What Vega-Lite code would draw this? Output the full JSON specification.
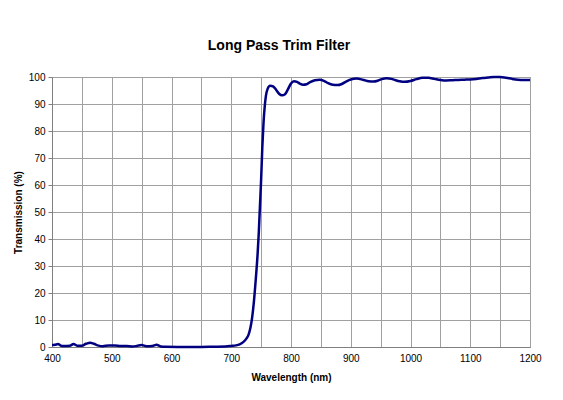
{
  "$schema": "https://vega.github.io/schema/vega-lite/v6.json",
  "width": 478,
  "height": 270,
  "autosize": {"type": "none"},
  "padding": {"left": 52, "top": 77, "right": 33, "bottom": 53},
  "background": "white",
  "title": {
    "text": "Long Pass Trim Filter",
    "font": "Liberation Sans",
    "fontSize": 14,
    "fontWeight": "bold",
    "color": "#000000",
    "anchor": "middle",
    "dx": -12,
    "offset": 19
  },
  "config": {
    "view": {"stroke": "#808080", "strokeWidth": 1},
    "axis": {
      "labelFont": "Liberation Sans",
      "titleFont": "Liberation Sans",
      "labelFontSize": 10,
      "titleFontSize": 10,
      "titleFontWeight": "bold",
      "labelColor": "#000000",
      "titleColor": "#000000",
      "domainColor": "#808080",
      "tickColor": "#808080",
      "gridColor": "#a0a0a0",
      "gridOpacity": 1,
      "labelFlush": false,
      "labelOverlap": false
    }
  },
  "data": {
    "values": [
      {"wl": 400, "t": 0.7}, {"wl": 405, "t": 0.8}, {"wl": 410, "t": 1.1}, {"wl": 415, "t": 0.5},
      {"wl": 420, "t": 0.4}, {"wl": 430, "t": 0.5}, {"wl": 436, "t": 1.1}, {"wl": 442, "t": 0.5},
      {"wl": 450, "t": 0.5}, {"wl": 457, "t": 1.2}, {"wl": 464, "t": 1.6}, {"wl": 470, "t": 1.2},
      {"wl": 478, "t": 0.5}, {"wl": 485, "t": 0.3}, {"wl": 495, "t": 0.6}, {"wl": 505, "t": 0.6},
      {"wl": 515, "t": 0.4}, {"wl": 525, "t": 0.4}, {"wl": 535, "t": 0.2}, {"wl": 542, "t": 0.4},
      {"wl": 550, "t": 0.7}, {"wl": 558, "t": 0.3}, {"wl": 568, "t": 0.4}, {"wl": 575, "t": 0.8},
      {"wl": 582, "t": 0.2}, {"wl": 590, "t": 0.05}, {"wl": 610, "t": 0.0}, {"wl": 630, "t": 0.0},
      {"wl": 650, "t": 0.0}, {"wl": 670, "t": 0.1}, {"wl": 690, "t": 0.2}, {"wl": 700, "t": 0.4},
      {"wl": 708, "t": 0.6}, {"wl": 714, "t": 1.0}, {"wl": 720, "t": 1.8}, {"wl": 725, "t": 3.0},
      {"wl": 729, "t": 4.6}, {"wl": 732, "t": 7.0}, {"wl": 735, "t": 11}, {"wl": 738, "t": 17},
      {"wl": 741, "t": 25}, {"wl": 744, "t": 34}, {"wl": 746, "t": 42}, {"wl": 748, "t": 52},
      {"wl": 750, "t": 62}, {"wl": 752, "t": 74}, {"wl": 754, "t": 83}, {"wl": 756, "t": 89},
      {"wl": 758, "t": 93}, {"wl": 761, "t": 95.7}, {"wl": 765, "t": 96.8}, {"wl": 770, "t": 96.5},
      {"wl": 775, "t": 95.3}, {"wl": 780, "t": 93.8}, {"wl": 785, "t": 93.2}, {"wl": 790, "t": 93.6},
      {"wl": 795, "t": 95.5}, {"wl": 800, "t": 97.6}, {"wl": 805, "t": 98.4}, {"wl": 810, "t": 98.2},
      {"wl": 815, "t": 97.5}, {"wl": 820, "t": 97.1}, {"wl": 826, "t": 97.3}, {"wl": 832, "t": 98.1},
      {"wl": 840, "t": 98.8}, {"wl": 848, "t": 99.0}, {"wl": 855, "t": 98.6}, {"wl": 862, "t": 97.7},
      {"wl": 870, "t": 97.1}, {"wl": 878, "t": 97.0}, {"wl": 885, "t": 97.4}, {"wl": 892, "t": 98.3},
      {"wl": 900, "t": 99.1}, {"wl": 910, "t": 99.4}, {"wl": 920, "t": 99.0}, {"wl": 930, "t": 98.4},
      {"wl": 938, "t": 98.3}, {"wl": 945, "t": 98.6}, {"wl": 952, "t": 99.2}, {"wl": 960, "t": 99.5},
      {"wl": 968, "t": 99.3}, {"wl": 975, "t": 98.8}, {"wl": 982, "t": 98.4}, {"wl": 990, "t": 98.2},
      {"wl": 1000, "t": 98.5}, {"wl": 1010, "t": 99.2}, {"wl": 1020, "t": 99.7}, {"wl": 1030, "t": 99.7},
      {"wl": 1040, "t": 99.3}, {"wl": 1050, "t": 98.9}, {"wl": 1060, "t": 98.7}, {"wl": 1070, "t": 98.8},
      {"wl": 1080, "t": 98.9}, {"wl": 1090, "t": 99.0}, {"wl": 1100, "t": 99.1}, {"wl": 1110, "t": 99.3},
      {"wl": 1120, "t": 99.6}, {"wl": 1130, "t": 99.8}, {"wl": 1140, "t": 100.0}, {"wl": 1150, "t": 100.0},
      {"wl": 1160, "t": 99.7}, {"wl": 1170, "t": 99.3}, {"wl": 1180, "t": 99.0}, {"wl": 1190, "t": 98.9},
      {"wl": 1200, "t": 98.9}
    ]
  },
  "mark": {"type": "line", "color": "#000080", "strokeWidth": 2.5, "interpolate": "monotone", "clip": false},
  "encoding": {
    "x": {
      "field": "wl",
      "type": "quantitative",
      "title": "Wavelength (nm)",
      "scale": {"domain": [400, 1200], "nice": false, "zero": false},
      "axis": {
        "values": [400, 450, 500, 550, 600, 650, 700, 750, 800, 850, 900, 950, 1000, 1050, 1100, 1150, 1200],
        "labelExpr": "datum.value % 100 == 0 ? datum.label : ''",
        "format": "d",
        "ticks": false,
        "labelPadding": 6,
        "titlePadding": 9
      }
    },
    "y": {
      "field": "t",
      "type": "quantitative",
      "title": "Transmission (%)",
      "scale": {"domain": [0, 100], "nice": false},
      "axis": {
        "values": [0, 10, 20, 30, 40, 50, 60, 70, 80, 90, 100],
        "tickSize": 4,
        "labelPadding": 3,
        "titlePadding": 5
      }
    }
  }
}
